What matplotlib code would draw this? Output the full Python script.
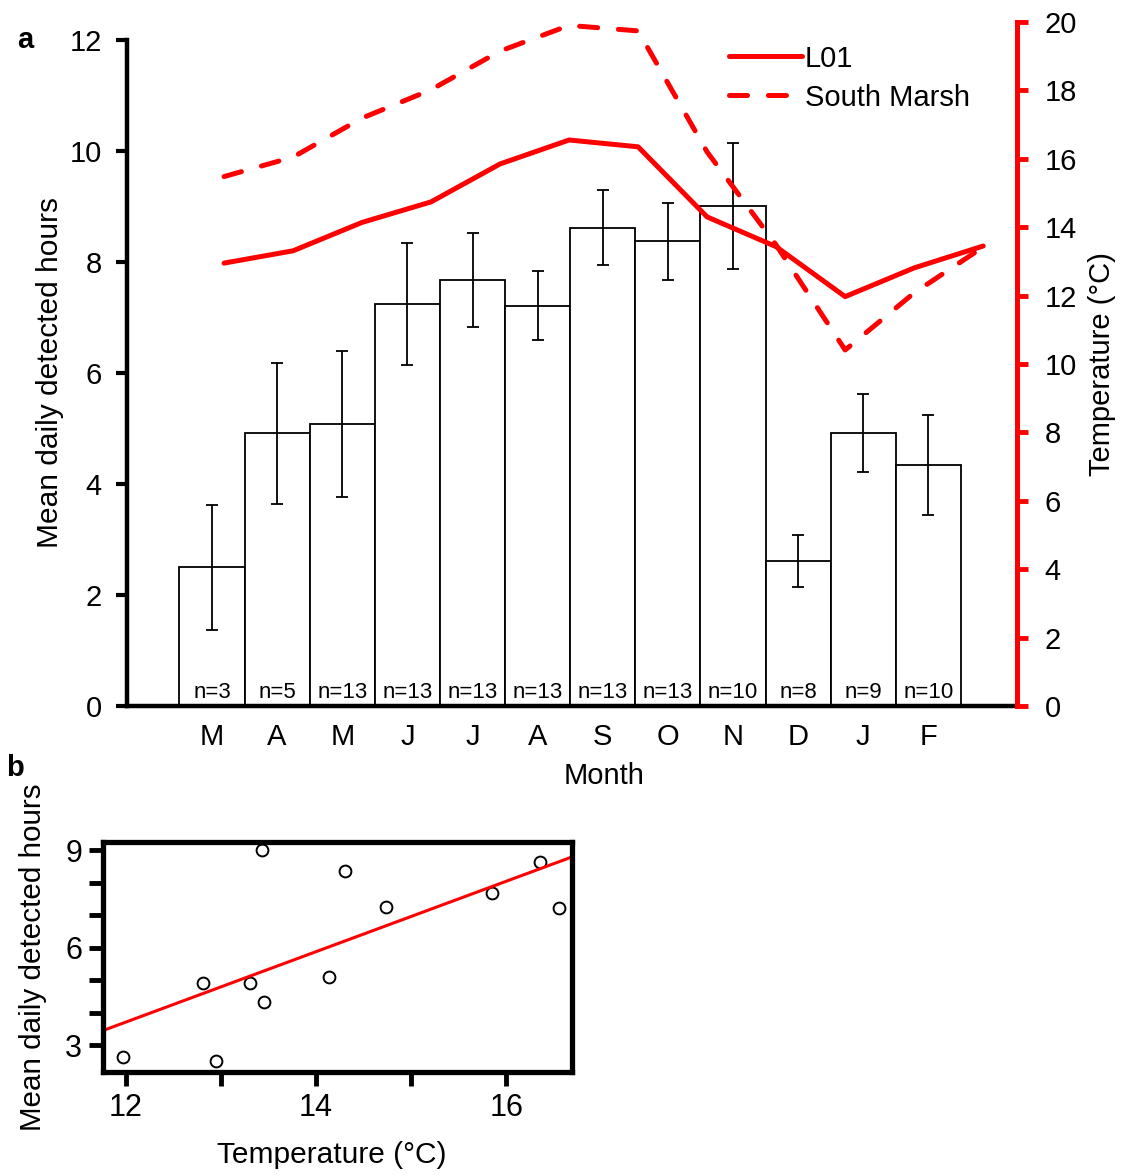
import numpy as np
import matplotlib
matplotlib.use('Agg')
import matplotlib.pyplot as plt

plt.rcParams['font.family'] = ['Liberation Sans', 'DejaVu Sans']
plt.rcParams['lines.scale_dashes'] = False

####################################################################################################

# monthly detections, March to February
months = ['M', 'A', 'M', 'J', 'J', 'A', 'S', 'O', 'N', 'D', 'J', 'F']
mean_hours = [2.50, 4.91, 5.08, 7.24, 7.68, 7.21, 8.62, 8.37, 9.01, 2.62, 4.92, 4.34]
hours_err = [1.13, 1.27, 1.32, 1.10, 0.85, 0.62, 0.68, 0.70, 1.14, 0.47, 0.71, 0.90]
n_days = [3, 5, 13, 13, 13, 13, 13, 13, 10, 8, 9, 10]

# monthly mean water temperature (degC)
temp_l01 = [12.95, 13.31, 14.14, 14.74, 15.85, 16.55, 16.35, 14.30, 13.43, 11.97, 12.81, 13.45]
temp_south_marsh = [15.48, 16.05, 17.19, 18.02, 19.15, 19.90, 19.74, 16.20, 13.48, 10.41, 12.08, 13.42]

####################################################################################################

W, H = 1121, 1175
fig = plt.figure(figsize=(W / 100, H / 100), dpi=100)

def rect(x0, y0, x1, y1):
    # pixel box -> figure fraction
    return [x0 / W, 1 - y1 / H, (x1 - x0) / W, (y1 - y0) / H]

red = '#ff0000'
fs = 21

#### panel a: bars + temperature lines

ax = fig.add_axes(rect(127, 22, 1017, 706))
x = np.arange(len(months))
ax.bar(x, mean_hours, width=1.0, color='white', edgecolor='black', linewidth=1.3, zorder=2)
ax.errorbar(x, mean_hours, yerr=hours_err, fmt='none', ecolor='black',
            elinewidth=1.3, capsize=4.5, capthick=1.3, zorder=3)
for xi, n in zip(x, n_days):
    ax.text(xi, 0.15, 'n=%d' % n, ha='center', va='baseline', fontsize=16, zorder=4)

ax.set_xlim(-1.305, 12.36)
ax.set_ylim(0, 684 / 55.5)
ax.set_yticks(np.arange(0, 13, 2))
ax.set_xticks(x)
ax.set_xticklabels(months)
ax.tick_params(axis='x', length=0, pad=12, labelsize=fs)
ax.tick_params(axis='y', length=8, width=3, pad=10, labelsize=fs)
for side in ('top', 'right'):
    ax.spines[side].set_visible(False)
ax.spines['left'].set_linewidth(3.2)
ax.spines['bottom'].set_linewidth(3.2)
ax.spines['left'].set_bounds(0, 12)
ax.set_xlabel('Month', fontsize=fs)
ax.xaxis.set_label_coords((604 - 127) / 890, -(776 - 706) / 684, transform=ax.transAxes)
ax.xaxis.label.set_va('center')
ax.set_ylabel('Mean daily detected hours', fontsize=fs + 0.5)
ax.yaxis.set_label_coords(-(127 - 50) / 890, (706 - 372) / 684, transform=ax.transAxes)
ax.yaxis.label.set_va('center')

# temperature on its own axes so the line points keep their own spacing
ax_t = fig.add_axes(rect(127, 22, 1017, 706))
ax_t.patch.set_visible(False)
xt = np.arange(len(temp_l01))
ax_t.plot(xt, temp_l01, color=red, lw=3.6, solid_capstyle='round',
          solid_joinstyle='round', label='L01')
ax_t.plot(xt, temp_south_marsh, color=red, lw=3.6, linestyle=(0, (13, 15)),
          dash_capstyle='round', dash_joinstyle='round', label='South Marsh')
ax_t.set_xlim(-1.406, 11.49)
ax_t.set_ylim(0, 20)
ax_t.set_xticks([])
ax_t.set_yticks(np.arange(0, 21, 2))
ax_t.yaxis.tick_right()
ax_t.yaxis.set_label_position('right')
ax_t.tick_params(axis='y', length=8, width=3.5, color=red, pad=12, labelsize=fs)
for side in ('top', 'left', 'bottom'):
    ax_t.spines[side].set_visible(False)
ax_t.spines['right'].set_color(red)
ax_t.spines['right'].set_linewidth(3.6)
ax_t.spines['right'].set_bounds(0, 20)
ax_t.set_ylabel('Temperature (°C)', fontsize=fs, labelpad=8)
ax_t.legend(loc='upper left', bbox_to_anchor=(714 / W, 1 - 30 / H),
            bbox_transform=fig.transFigure, frameon=False, fontsize=fs,
            handlelength=2.5, handletextpad=0.12, labelspacing=0.38, borderpad=0)

#### panel b: hours against L01 temperature

axb = fig.add_axes(rect(103, 842, 572, 1072))
axb.plot(temp_l01, mean_hours, 'o', mfc='none', mec='black', mew=1.4, ms=8.5)
axb.set_xlim(11.76, 16.69)
axb.set_ylim(2.17, 9.25)
slope, icpt = np.polyfit(temp_l01, mean_hours, 1)
xf = np.array(axb.get_xlim())
axb.plot(xf, icpt + slope * xf, color=red, lw=2.2)
axb.set_xticks([12, 13, 14, 15, 16])
axb.set_xticklabels(['12', '', '14', '', '16'])
axb.set_yticks([3, 4, 5, 6, 7, 8, 9])
axb.set_yticklabels(['3', '', '', '6', '', '', '9'])
axb.tick_params(length=10, width=3.5, pad=5, labelsize=fs + 1)
for s in axb.spines.values():
    s.set_linewidth(3.8)
axb.set_xlabel('Temperature (°C)', fontsize=fs + 0.5)
axb.xaxis.set_label_coords((332 - 103) / 469, -(1155 - 1072) / 230, transform=axb.transAxes)
axb.xaxis.label.set_va('center')
axb.set_ylabel('Mean daily detected hours', fontsize=fs + 0.3)
axb.yaxis.set_label_coords(-(103 - 33) / 469, (1072 - 957) / 230, transform=axb.transAxes)
axb.yaxis.label.set_va('center')

fig.text(25 / W, 1 - 40 / H, 'a', fontsize=21, fontweight='bold', ha='center', va='center')
fig.text(15 / W, 1 - 768 / H, 'b', fontsize=21, fontweight='bold', ha='center', va='center')

fig.savefig('out.png', dpi=100)
